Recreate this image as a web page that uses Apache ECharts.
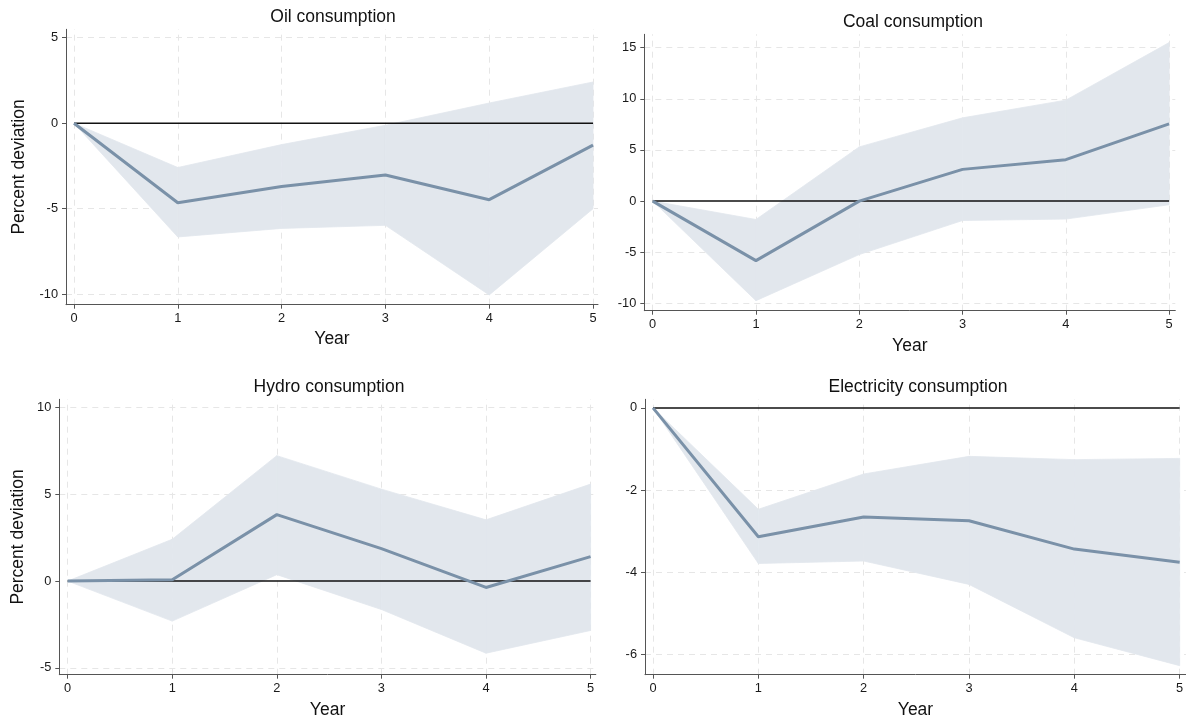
<!DOCTYPE html>
<html>
<head>
<meta charset="utf-8">
<script src="https://cdn.jsdelivr.net/npm/echarts@6/dist/echarts.min.js"></script>
<style>
html,body{margin:0;padding:0;background:#fff;}
#chart{width:1186px;height:719px;}
</style>
</head>
<body>
<div id="chart"></div>
<script>
// ---------- data ----------
const years = [0, 1, 2, 3, 4, 5];

const oilIrf   = [0, -4.65, -3.70, -3.03, -4.47, -1.28];
const oilUpper = [0, -2.59, -1.25, -0.12, 1.18, 2.41];
const oilLower = [0, -6.65, -6.15, -5.97, -10.04, -5.00];

const coalIrf   = [0, -5.82, 0.00, 3.10, 4.05, 7.55];
const coalUpper = [0, -1.80, 5.30, 8.14, 9.87, 15.50];
const coalLower = [0, -9.74, -5.23, -1.90, -1.76, -0.36];

const hydroIrf   = [0, 0.08, 3.83, 1.87, -0.37, 1.41];
const hydroUpper = [0, 2.41, 7.23, 5.30, 3.53, 5.59];
const hydroLower = [0, -2.31, 0.37, -1.64, -4.16, -2.85];

const elecIrf   = [0, -3.14, -2.66, -2.75, -3.44, -3.76];
const elecUpper = [0, -2.47, -1.61, -1.18, -1.26, -1.23];
const elecLower = [0, -3.79, -3.73, -4.30, -5.60, -6.28];

const oilTicks   = [-10, -5, 0, 5];
const coalTicks  = [-10, -5, 0, 5, 10, 15];
const hydroTicks = [-5, 0, 5, 10];
const elecTicks  = [-6, -4, -2, 0];

const titles = ['Oil consumption', 'Coal consumption', 'Hydro consumption', 'Electricity consumption'];
const xName = 'Year';
const yName = 'Percent deviation';

// ---------- layout / style ----------
const FONT = '"Liberation Sans", Arial, Helvetica, sans-serif';
const LINE_COLOR = '#7a91a8';
const BAND_COLOR = '#e2e7ed';
const GRID_COLOR = '#e6e6e6';

const panels = [
  { title: titles[0], irf: oilIrf, up: oilUpper, lo: oilLower, ticks: oilTicks,
    grid: {left: 66, top: 29.3, width: 532, height: 275.4},
    xmin: -0.077, xmax: 5.048, ymin: -10.61, ymax: 5.49,
    titleX: 333, titleY: 8.5, xGap: 25, yTitle: true, yGap: 38 },
  { title: titles[1], irf: coalIrf, up: coalUpper, lo: coalLower, ticks: coalTicks,
    grid: {left: 644.3, top: 34.3, width: 531, height: 276.4},
    xmin: -0.081, xmax: 5.06, ymin: -10.72, ymax: 16.31,
    titleX: 913, titleY: 13.5, xGap: 26, yTitle: false },
  { title: titles[2], irf: hydroIrf, up: hydroUpper, lo: hydroLower, ticks: hydroTicks,
    grid: {left: 59.3, top: 399.3, width: 536.5, height: 275.4},
    xmin: -0.08, xmax: 5.05, ymin: -5.40, ymax: 10.48,
    titleX: 329, titleY: 378.5, xGap: 26, yTitle: true, yGap: 32 },
  { title: titles[3], irf: elecIrf, up: elecUpper, lo: elecLower, ticks: elecTicks,
    grid: {left: 645, top: 399.3, width: 541, height: 275.4},
    xmin: -0.076, xmax: 5.06, ymin: -6.50, ymax: 0.21,
    titleX: 918, titleY: 378, xGap: 26, yTitle: false }
];

const option = {
  animation: false,
  backgroundColor: '#ffffff',
  textStyle: { fontFamily: FONT },
  title: [], grid: [], xAxis: [], yAxis: [], series: []
};

function bandRender(params, api) {
  const p0l = api.coord([api.value(0), api.value(1)]);
  const p0u = api.coord([api.value(0), api.value(2)]);
  const p1l = api.coord([api.value(3), api.value(4)]);
  const p1u = api.coord([api.value(3), api.value(5)]);
  return {
    type: 'polygon',
    shape: { points: [p0l, p0u, p1u, p1l] },
    style: { fill: BAND_COLOR, stroke: BAND_COLOR, lineWidth: 0.8 }
  };
}

panels.forEach((p, i) => {
  option.title.push({
    text: p.title, left: p.titleX, top: p.titleY, textAlign: 'center', padding: 0,
    textStyle: { fontFamily: FONT, fontSize: 17.5, fontWeight: 'normal', color: '#111' }
  });
  option.grid.push(Object.assign({ containLabel: false, outerBoundsMode: 'none' }, p.grid));
  option.xAxis.push({
    type: 'value', gridIndex: i, min: p.xmin, max: p.xmax,
    name: xName, nameLocation: 'middle', nameGap: p.xGap,
    nameTextStyle: { fontFamily: FONT, fontSize: 17.5, color: '#111' },
    axisLine: { show: true, onZero: false, lineStyle: { color: '#555', width: 1 } },
    axisTick: { show: true, length: 4, customValues: years, lineStyle: { color: '#555' } },
    axisLabel: { customValues: years, fontFamily: FONT, fontSize: 12.8, color: '#1a1a1a', margin: 7 },
    splitLine: { show: false }
  });
  option.yAxis.push({
    type: 'value', gridIndex: i, min: p.ymin, max: p.ymax,
    name: p.yTitle ? yName : '', nameLocation: 'middle', nameGap: p.yGap || 30, nameRotate: 90,
    nameTextStyle: { fontFamily: FONT, fontSize: 17.5, color: '#111' },
    axisLine: { show: true, onZero: false, lineStyle: { color: '#555', width: 1 } },
    axisTick: { show: true, length: 4, customValues: p.ticks, lineStyle: { color: '#555' } },
    axisLabel: { customValues: p.ticks, fontFamily: FONT, fontSize: 12.8, color: '#1a1a1a', margin: 8 },
    splitLine: { show: false }
  });

  const zeros = years.map(() => 0);
  // gridlines (via markLine), drawn beneath everything
  option.series.push({
    type: 'line', xAxisIndex: i, yAxisIndex: i, z: 0, silent: true,
    data: years.map((x, k) => [x, zeros[k]]), symbol: 'none',
    lineStyle: { opacity: 0 },
    markLine: {
      silent: true, symbol: 'none', label: { show: false }, z: 0,
      animation: false,
      lineStyle: { color: GRID_COLOR, type: [6, 5], width: 1 },
      data: years.map(v => ({ xAxis: v })).concat(p.ticks.filter(v => v !== 0).map(v => ({ yAxis: v })))
    }
  });
  // confidence band as polygons between consecutive years
  const segs = years.slice(1).map((x, k) => [years[k], p.lo[k], p.up[k], x, p.lo[k + 1], p.up[k + 1]]);
  option.series.push({
    type: 'custom', xAxisIndex: i, yAxisIndex: i, z: 2, silent: true,
    renderItem: bandRender,
    encode: { x: [0, 3], y: [1, 2, 4, 5] },
    data: segs
  });
  // zero line
  option.series.push({
    type: 'line', xAxisIndex: i, yAxisIndex: i, z: 3, silent: true, symbol: 'none',
    data: years.map((x, k) => [x, zeros[k]]),
    lineStyle: { color: '#111111', width: 1.5 }
  });
  // IRF line
  option.series.push({
    type: 'line', xAxisIndex: i, yAxisIndex: i, z: 4, silent: true, symbol: 'none',
    data: years.map((x, k) => [x, p.irf[k]]),
    lineStyle: { color: LINE_COLOR, width: 3 }
  });
});

const chart = echarts.init(document.getElementById('chart'), null, { renderer: 'canvas' });
chart.setOption(option);
</script>
</body>
</html>
